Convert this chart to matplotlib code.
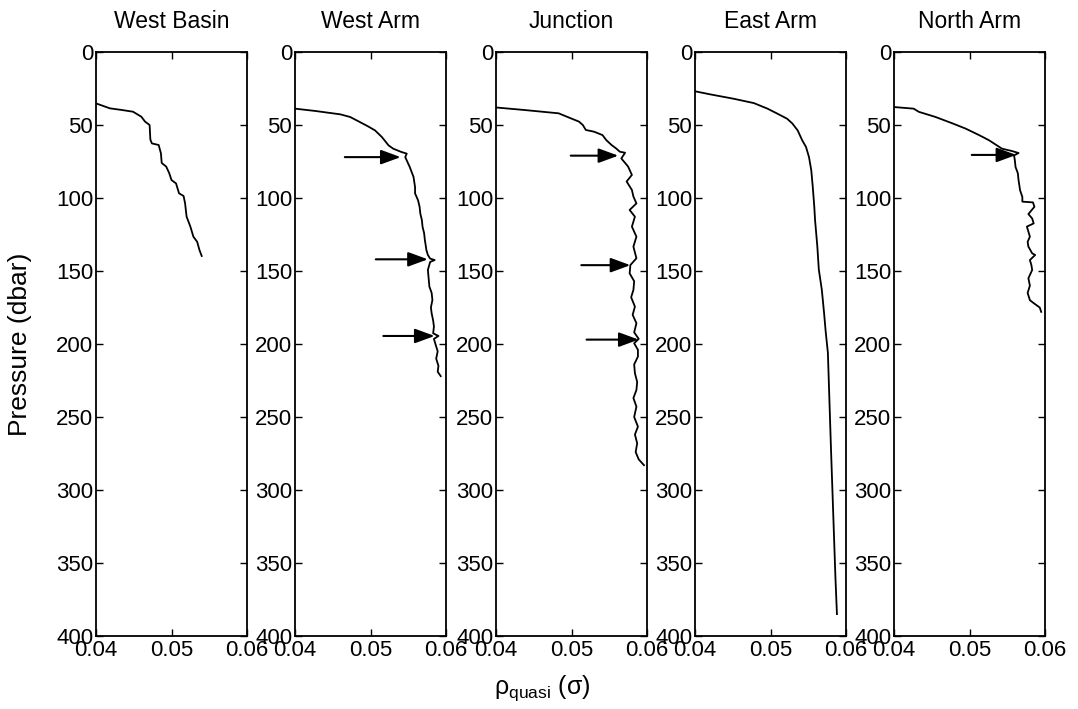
import matplotlib
matplotlib.use("Agg")
import matplotlib.pyplot as plt

plt.rcParams['font.family'] = ['Liberation Sans', 'DejaVu Sans']
plt.rcParams['mathtext.fontset'] = 'custom'
plt.rcParams['mathtext.rm'] = 'Liberation Sans'
plt.rcParams['mathtext.it'] = 'Liberation Sans'

titles = ["West Basin", "West Arm", "Junction", "East Arm", "North Arm"]

wb_p = [35.2, 38.6, 39.7, 40.9, 44.3, 47.7, 50, 60, 62.6, 63.7, 69.4, 76, 78.5, 83, 87.7, 90, 96.8,
        98.6, 103.7, 112.8, 119.6, 126.5, 130, 135.6, 139.7]
wb_rho = [0.04, 0.04185, 0.0434, 0.0449, 0.0460, 0.0465, 0.0471, 0.0472, 0.0474, 0.0483, 0.0486,
          0.0487, 0.0493, 0.0497, 0.0500, 0.0506, 0.0510, 0.0516, 0.0518, 0.0520, 0.0525, 0.0529,
          0.0534, 0.0537, 0.0540]

wa_p = [38.8, 40.4, 42.7, 44.5, 48, 51, 53.7, 58.2, 64, 66.2, 68.5, 69.6, 72, 78.8, 85.6, 92.5, 96.8,
        101.6, 106, 110.7, 115, 119.9, 124, 128.8, 132, 135.6, 139, 141.5, 142.5, 143.8, 149.3, 155,
        160.7, 165, 169.9, 175, 179, 184, 188, 192.7, 194.5, 196.5, 200, 205, 210, 215, 219, 222]
wa_rho = [0.04, 0.0427, 0.046, 0.0473, 0.0486, 0.0497, 0.0506, 0.0515, 0.0524, 0.053, 0.0541, 0.0548,
          0.0546, 0.0552, 0.0557, 0.0559, 0.0559, 0.0563, 0.0565, 0.0566, 0.0568, 0.0569, 0.0571,
          0.0572, 0.0573, 0.0574, 0.0576, 0.0579, 0.0585, 0.0579, 0.0576, 0.0577, 0.0578, 0.0581,
          0.0582, 0.0580, 0.0581, 0.0583, 0.0584, 0.0583, 0.0590, 0.0584, 0.0586, 0.0589, 0.0587,
          0.0590, 0.0589, 0.0593]

ju_p = [38, 39.7, 42, 45.4, 47.7, 50, 53.4, 54.6, 56.9, 60.3, 63.7, 66, 68.3, 69, 72.9, 78.5, 84.2,
        88.7, 94.5, 99, 103.7, 108.2, 112.8, 119.6, 126.5, 133.3, 141.3, 145.9, 151.6, 157, 163, 168,
        174.4, 180, 185.8, 192, 196.5, 199.5, 204, 208.6, 214, 220, 226, 231.5, 237, 242.9, 250,
        256.6, 262, 268, 274, 279, 283]
ju_rho = [0.04, 0.0437, 0.0483, 0.0499, 0.051, 0.0515, 0.0519, 0.053, 0.0541, 0.0546, 0.0553, 0.0559,
          0.0564, 0.0571, 0.0566, 0.0575, 0.058, 0.0573, 0.058, 0.0582, 0.0586, 0.0577, 0.0584, 0.058,
          0.0586, 0.0582, 0.0586, 0.0578, 0.0577, 0.0583, 0.0582, 0.0579, 0.0584, 0.0581, 0.0586,
          0.0583, 0.0589, 0.0583, 0.0588, 0.0588, 0.0583, 0.0584, 0.0587, 0.0586, 0.0582, 0.0586,
          0.0583, 0.0588, 0.0584, 0.0587, 0.0585, 0.0589, 0.0596]

ea_p = [26.9, 29, 32, 35, 38.8, 42.2, 45.7, 49, 53.7, 60.5, 65, 72, 81, 92.5, 106, 115, 133, 149, 163,
        179, 191, 206, 238, 270, 300, 330, 360, 385]
ea_rho = [0.04, 0.042, 0.0451, 0.0478, 0.0496, 0.0509, 0.0522, 0.0529, 0.0536, 0.0542, 0.0547, 0.0551,
          0.0554, 0.0556, 0.0558, 0.0559, 0.0562, 0.0564, 0.0568, 0.0571, 0.0573, 0.0576, 0.0578,
          0.058, 0.0582, 0.0584, 0.0586, 0.0588]

na_p = [37.7, 38.8, 41, 44.5, 49, 52.5, 57, 60.5, 66.2, 67.8, 69.2, 70.8, 74, 78.8, 83, 87.9, 94.7,
        99.3, 102.5, 103, 106, 111, 114, 117.4, 119.6, 123, 126.5, 130, 133.3, 137.9, 139, 142.5,
        146, 149.3, 155, 160, 165, 170, 172, 175, 178]
na_rho = [0.04, 0.0426, 0.0433, 0.0455, 0.0478, 0.0495, 0.0513, 0.0526, 0.0543, 0.0556, 0.0565,
          0.0559, 0.056, 0.0561, 0.0564, 0.0565, 0.0567, 0.057, 0.057, 0.0584, 0.0586, 0.0578,
          0.0583, 0.0585, 0.0576, 0.0578, 0.058, 0.0577, 0.0578, 0.0583, 0.0587, 0.058, 0.0582,
          0.0583, 0.0578, 0.058, 0.0577, 0.058, 0.0585, 0.0593, 0.0595]

# arrows: (pressure, rho_start, rho_end) per panel
wa_arrows = [(72, 0.0466, 0.0540), (142, 0.0507, 0.0576), (194.5, 0.0517, 0.0585)]
ju_arrows = [(71, 0.0499, 0.0562), (146, 0.0513, 0.0578), (197, 0.0520, 0.0589)]
na_arrows = [(70.5, 0.0503, 0.0562)]

profiles = [(wb_rho, wb_p, []), (wa_rho, wa_p, wa_arrows), (ju_rho, ju_p, ju_arrows),
            (ea_rho, ea_p, []), (na_rho, na_p, na_arrows)]

xticks = [0.04, 0.05, 0.06]
xticklabels = ["0.04", "0.05", "0.06"]
yticks = [0, 50, 100, 150, 200, 250, 300, 350, 400]

W, H = 1078, 709
fig = plt.figure(figsize=(W / 100, H / 100), dpi=100)
lefts = [96, 295, 496, 695, 894]
aw, top, bot = 151, 52, 636
FS = 16

axes = []
for i, (l, title, (rho, p, arrows)) in enumerate(zip(lefts, titles, profiles)):
    ax = fig.add_axes([l / W, 1 - bot / H, aw / W, (bot - top) / H])
    ax.plot(rho, p, color='black', lw=1.3)
    for (pp, r0, r1) in arrows:
        ax.annotate("", xy=(r1, pp), xytext=(r0, pp),
                    arrowprops=dict(arrowstyle='-|>,head_length=0.6,head_width=0.22',
                                    mutation_scale=20, lw=1.5, color='black',
                                    shrinkA=0, shrinkB=0))
    ax.set_xlim(0.04, 0.06)
    ax.set_ylim(400, 0)
    ax.set_xticks(xticks)
    ax.set_xticklabels(xticklabels)
    ax.set_yticks(yticks)
    ax.tick_params(direction='in', length=5, width=1.0, top=True, right=True,
                   labelsize=FS, pad=2)
    ax.tick_params(axis='x', pad=3)
    for s in ax.spines.values():
        s.set_linewidth(1.3)
    ax.set_title(title, fontsize=16.5, pad=17)
    axes.append(ax)

axes[0].set_ylabel("Pressure (dbar)", fontsize=19)
axes[0].yaxis.set_label_coords((32 - 96) / aw, 0.5)
fig.text(542 / W, 1 - 688 / H, r"ρ$_{\mathrm{quasi}}$ (σ)", fontsize=18, ha='center', va='center')

fig.savefig("out.png", dpi=100)
